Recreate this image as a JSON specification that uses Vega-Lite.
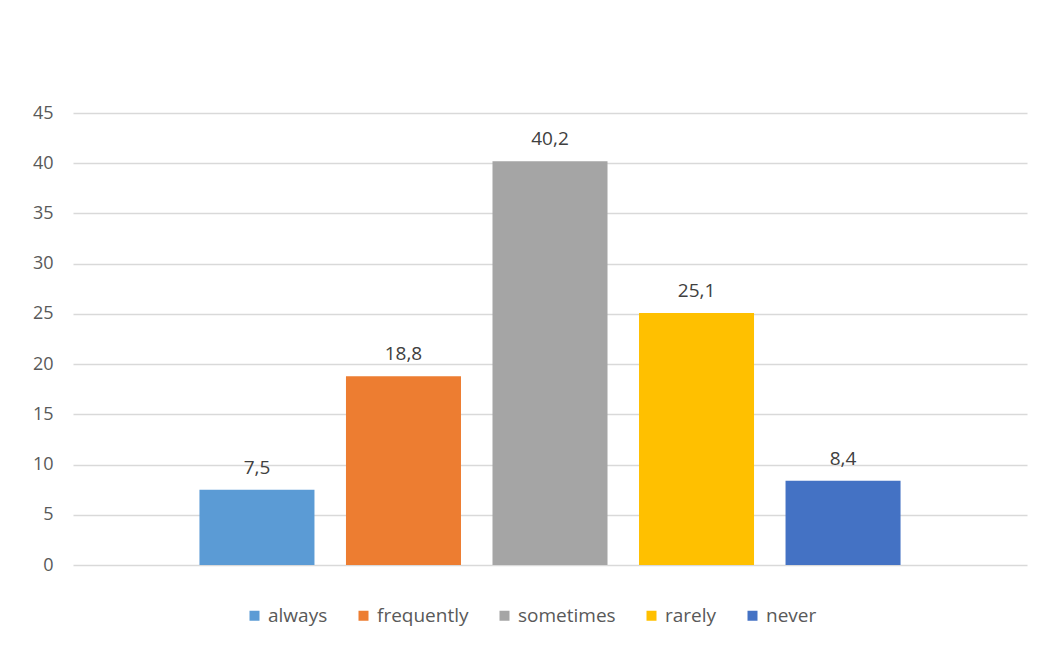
{
  "$schema": "https://vega.github.io/schema/vega-lite/v6.json",
  "width": 954,
  "height": 452,
  "autosize": {"type": "none"},
  "padding": {"left": 73, "top": 113, "right": 16, "bottom": 84},
  "background": "white",
  "config": {
    "view": {"stroke": null},
    "font": "Open Sans",
    "locale": {"number": {"decimal": ",", "thousands": ".", "grouping": [3], "currency": ["", ""]}}
  },
  "data": {
    "values": [
      {"category": "always", "value": 7.5},
      {"category": "frequently", "value": 18.8},
      {"category": "sometimes", "value": 40.2},
      {"category": "rarely", "value": 25.1},
      {"category": "never", "value": 8.4}
    ]
  },
  "encoding": {
    "x": {
      "field": "category",
      "type": "nominal",
      "sort": ["always", "frequently", "sometimes", "rarely", "never"],
      "scale": {"paddingInner": 0.215, "paddingOuter": 0.863},
      "axis": null
    },
    "y": {
      "field": "value",
      "type": "quantitative",
      "scale": {"domain": [0, 45], "nice": false},
      "axis": {
        "title": null,
        "values": [0, 5, 10, 15, 20, 25, 30, 35, 40, 45],
        "domain": false,
        "ticks": false,
        "labelPadding": 20,
        "labelFontSize": 18,
        "labelColor": "#595959",
        "labelFont": "Open Sans",
        "gridColor": "#d9d9d9",
        "gridWidth": 1.3
      }
    }
  },
  "layer": [
    {
      "mark": {"type": "bar"},
      "encoding": {
        "color": {
          "field": "category",
          "type": "nominal",
          "sort": ["always", "frequently", "sometimes", "rarely", "never"],
          "scale": {
            "domain": ["always", "frequently", "sometimes", "rarely", "never"],
            "range": ["#5B9BD5", "#ED7D31", "#A5A5A5", "#FFC000", "#4472C4"]
          },
          "legend": {
            "title": null,
            "orient": "none",
            "direction": "horizontal",
            "legendX": 172,
            "legendY": 493,
            "symbolType": "square",
            "symbolSize": 100,
            "symbolStrokeWidth": 0,
            "labelFontSize": 19,
            "labelColor": "#595959",
            "labelFont": "Open Sans",
            "labelOffset": 4,
            "columnPadding": 26
          }
        }
      }
    },
    {
      "mark": {"type": "text", "baseline": "alphabetic", "dy": -16, "fontSize": 19, "color": "#404040", "font": "Open Sans"},
      "encoding": {
        "text": {"field": "value", "type": "quantitative", "format": ".1f"}
      }
    }
  ]
}
